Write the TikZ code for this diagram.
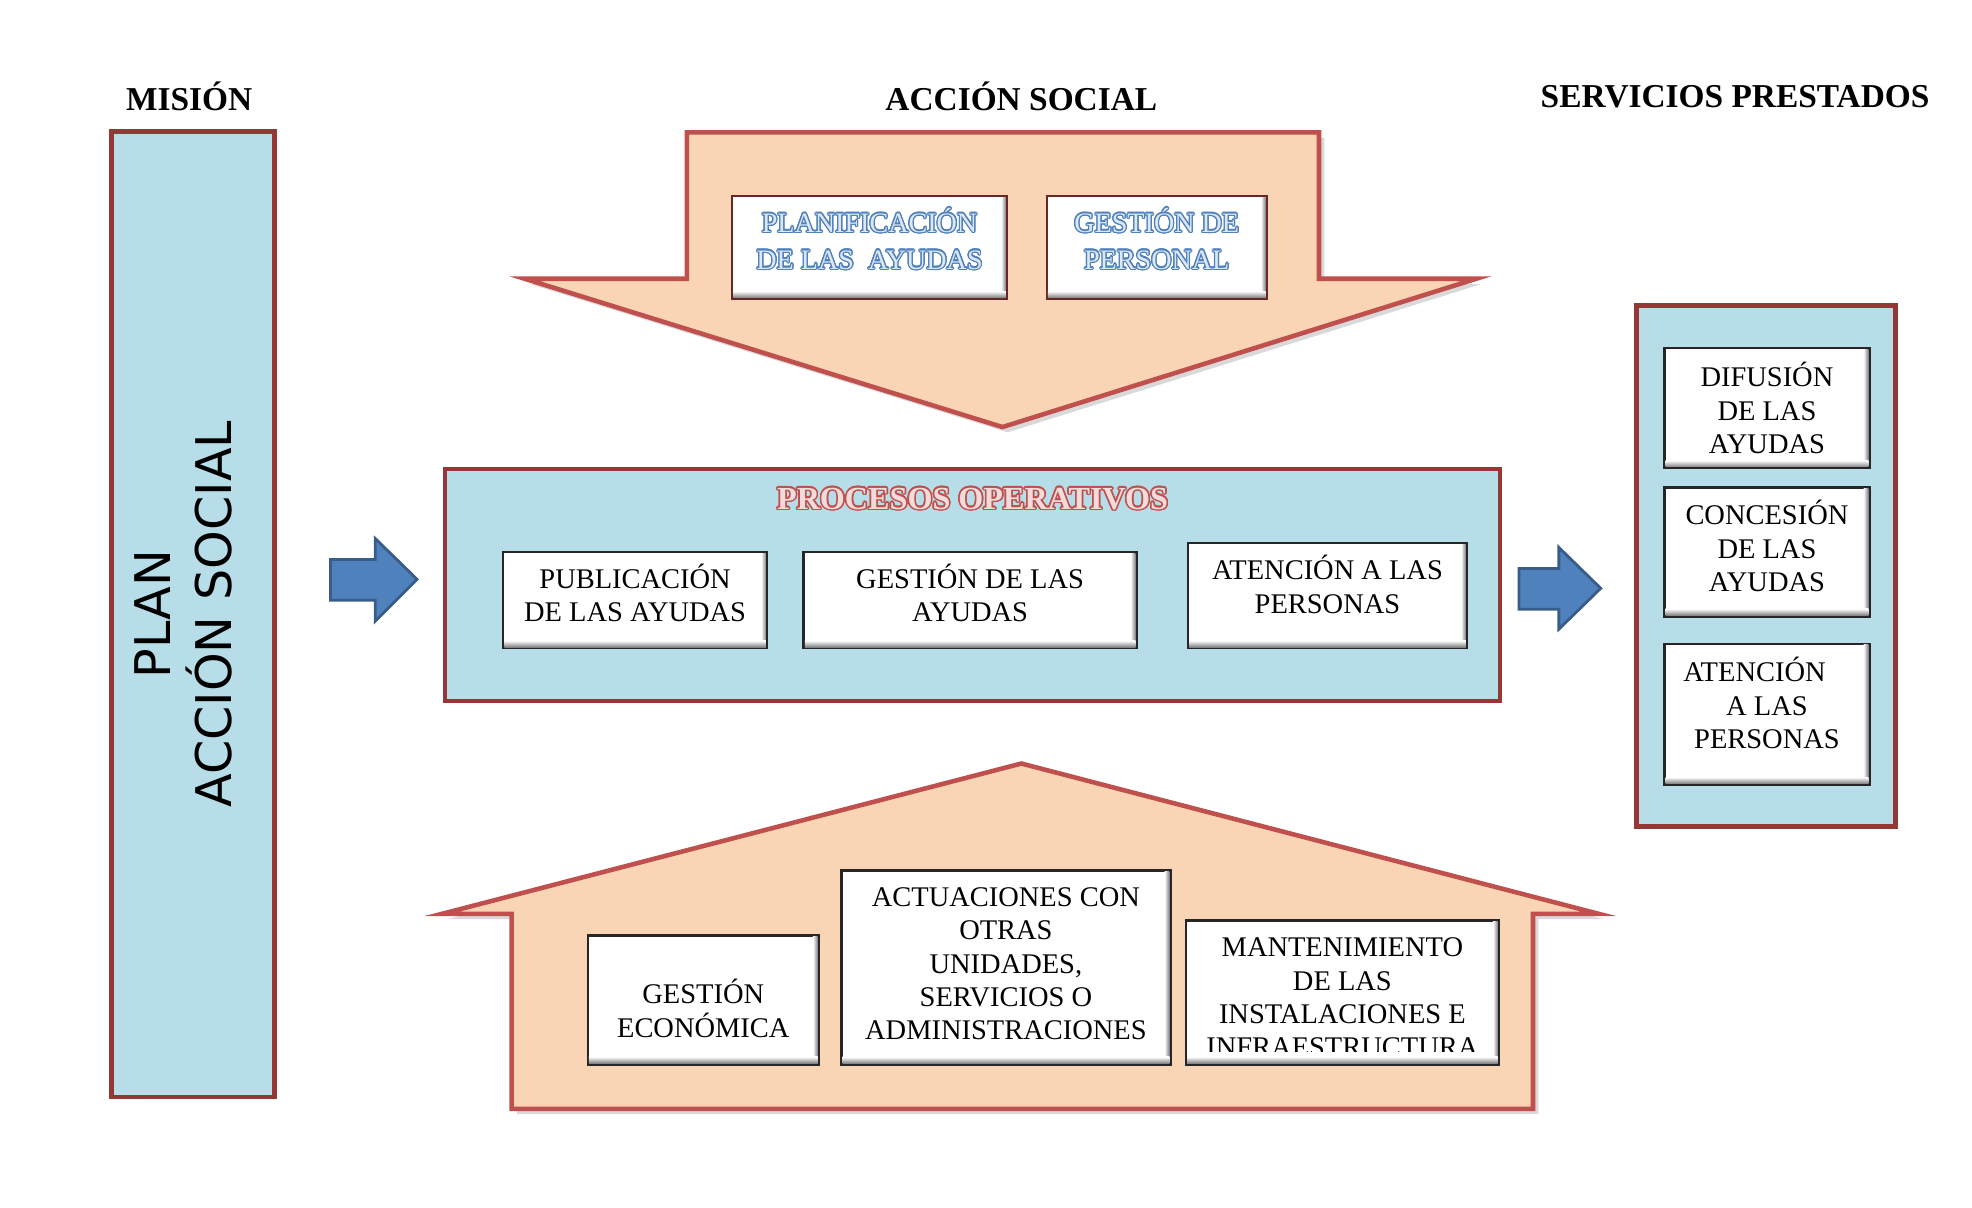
\documentclass[tikz,border=0pt]{standalone}
\usepackage{fontspec}
\setmainfont{Liberation Serif}
\newfontfamily\plansans{DejaVu Sans}
\usepackage{contour}
\contourlength{0.7pt}
\usetikzlibrary{shadows}

\definecolor{celeste}{RGB}{183,222,232}
\definecolor{granate}{RGB}{149,55,53}
\definecolor{rojizo}{RGB}{192,80,77}
\definecolor{melocoton}{RGB}{249,213,182}
\definecolor{azulflecha}{RGB}{79,129,189}
\definecolor{azulborde}{RGB}{56,93,138}
\definecolor{azulclaro}{RGB}{222,232,245}
\definecolor{rosaclaro}{RGB}{242,220,219}

\newcommand{\azulhueco}[1]{\contour{azulflecha}{\textcolor{azulclaro}{#1}}}

\tikzset{
  panel/.style={draw=granate, line width=2.6pt, fill=celeste},
  bigarrow/.style={draw=rojizo, line width=2.6pt, fill=melocoton, line join=miter,
    drop shadow={shadow xshift=3pt, shadow yshift=-3pt, opacity=0.3}},
  flecha/.style={draw=azulborde, line width=1.6pt, fill=azulflecha},
  caja/.style={draw=black!85, line width=1.3pt, fill=white, align=center, inner sep=2pt,
    font=\fontsize{16.2}{19}\selectfont},
  subir/.style={text depth=#1},
  titulo/.style={font=\fontsize{19}{22}\selectfont\bfseries}
}

\begin{document}
\begin{tikzpicture}[x=0.01991cm, y=-0.01991cm]
  \useasboundingbox (0,0) rectangle (1981,1213.5);

  % titulos
  \node[titulo] (mision) at (190,97) {MISIÓN};
  \node[titulo] (accion) at (1026,97) {ACCIÓN SOCIAL};
  \node[titulo] (servicios) at (1743,97) {SERVICIOS PRESTADOS};

  % mision
  \draw[panel] (112,132) rectangle (276,1102);
  \node[rotate=90, align=center, font=\plansans\fontsize{28}{34.5}\selectfont] (plan) at (184,617) {PLAN\\ACCIÓN SOCIAL};

  % flechas grandes
  \draw[bigarrow] (690,133) -- (1325,133) -- (1325,280) -- (1483,280) -- (1007,429) -- (527,280) -- (690,280) -- cycle;
  \draw[bigarrow] (514,1114) -- (514,918) -- (444,918) -- (1026,767) -- (1606,918) -- (1540,918) -- (1540,1114) -- cycle;

  % paneles
  \draw[panel] (447,471) rectangle (1507,704);
  \node[font=\fontsize{18.3}{21}\selectfont\bfseries] (procesos) at (977,502) {\contourlength{0.9pt}\contour{rojizo}{\textcolor{rosaclaro}{PROCESOS OPERATIVOS}}};
  \draw[panel] (1644,307) rectangle (1904,830);

  % flechas azules
  \draw[flecha] (332,562) -- (377,562) -- (377,541) -- (419,582) -- (377,624) -- (377,603) -- (332,603) -- cycle;
  \draw[flecha] (1526,571) -- (1566,571) -- (1566,550) -- (1608,591) -- (1566,632) -- (1566,612) -- (1526,612) -- cycle;

  % cajas
  \node[caja, subir=10pt, draw=granate!70!black, font=\fontsize{16}{21}\selectfont, minimum width=5.5cm, minimum height=2.06cm] (planif) at (873.5,248.5) {\azulhueco{PLANIFICACIÓN}\\\azulhueco{DE LAS\ \ AYUDAS}};
  \node[caja, subir=10pt, draw=granate!70!black, font=\fontsize{16}{21}\selectfont, minimum width=4.4cm, minimum height=2.06cm] (personal) at (1162,248.5) {\azulhueco{GESTIÓN DE}\\\azulhueco{PERSONAL}};

  \node[caja, subir=8.6pt, minimum width=5.28cm, minimum height=1.92cm] (publicacion) at (638,603) {PUBLICACIÓN\\DE LAS AYUDAS};
  \node[caja, subir=8.6pt, minimum width=6.66cm, minimum height=1.92cm] (gestion) at (974.5,603) {GESTIÓN DE LAS\\AYUDAS};
  \node[caja, subir=13pt, minimum width=5.58cm, minimum height=2.1cm] (atencion) at (1333.5,598.5) {ATENCIÓN A LAS\\PERSONAS};

  \node[caja, minimum width=4.1cm, minimum height=2.4cm] (difusion) at (1775,410) {DIFUSIÓN\\DE LAS\\AYUDAS};
  \node[caja, subir=7pt, minimum width=4.1cm, minimum height=2.58cm] (concesion) at (1775,554.5) {CONCESIÓN\\DE LAS\\AYUDAS};
  \node[caja, subir=13pt, minimum width=4.1cm, minimum height=2.82cm] (personas) at (1775,717.5) {ATENCIÓN\hspace*{0.5cm}\\A LAS\\PERSONAS};

  \node[caja, minimum width=4.62cm, minimum height=2.58cm] (economica) at (706.5,1004.5) {};
  \node[align=center, font=\fontsize{16.2}{19}\selectfont] (economicatexto) at (706.5,1013) {GESTIÓN\\ECONÓMICA};
  \node[caja, subir=4.4pt, minimum width=6.58cm, minimum height=3.88cm] (actuaciones) at (1010.5,972) {ACTUACIONES CON\\OTRAS\\UNIDADES,\\SERVICIOS O\\ADMINISTRACIONES};
  \node[caja, minimum width=6.26cm, minimum height=2.88cm] (mantenimiento) at (1348.5,997) {};
  \begin{scope}
    \clip (mantenimiento.north west) rectangle ([yshift=0.28cm]mantenimiento.south east);
    \node[align=center, font=\fontsize{16.2}{19}\selectfont] (mantetexto) at (1348.5,1002) {MANTENIMIENTO\\DE LAS\\INSTALACIONES E\\INFRAESTRUCTURA};
  \end{scope}

  % relieve de las cajas
  \foreach \c in {planif,personal,publicacion,gestion,atencion,difusion,concesion,personas,economica,actuaciones,mantenimiento}{
    \shade[left color=white, right color=black!50] ([shift={(-4pt,1.3pt)}]\c.south east) rectangle ([shift={(-1.3pt,-1.3pt)}]\c.north east);
    \shade[top color=white, bottom color=black!50] ([shift={(1.3pt,1.3pt)}]\c.south west) rectangle ([shift={(-1.3pt,5pt)}]\c.south east);
  }
\end{tikzpicture}
\end{document}
